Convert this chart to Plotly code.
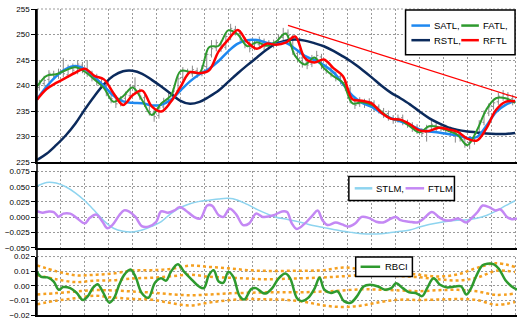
import plotly.graph_objects as go

# ---------------- price bars (bar index on x) ----------------
bar_x = list(range(1, 200, 2))
opens = [239.6, 240.4, 241.2, 242.2, 241.9, 242.7, 242.1, 243.5, 242.8, 244.0,
         243.3, 242.2, 241.8, 240.5, 240.0, 238.4, 237.6, 236.6, 237.5, 238.0,
         239.8, 238.8, 237.6, 236.3, 234.6, 234.1, 235.8, 236.8, 237.9, 239.0,
         241.6, 242.7, 242.3, 242.9, 242.4, 243.7, 246.0, 247.4, 248.1, 247.5,
         249.4, 251.0, 250.2, 248.9, 248.2, 247.5, 248.0, 248.7, 247.8, 248.0,
         248.5, 249.4, 250.3, 249.5, 246.3, 245.4, 244.6, 244.2, 245.1, 245.6,
         243.7, 243.2, 242.1, 241.8, 240.6, 239.3, 237.0, 236.4, 236.8, 236.5,
         236.6, 235.8, 235.0, 234.5, 233.6, 233.4, 233.7, 232.7, 232.2, 231.8,
         231.0, 230.8, 231.9, 232.2, 231.7, 231.7, 231.3, 230.8, 230.4, 229.5,
         228.8, 229.1, 230.7, 232.8, 234.6, 235.9, 236.8, 237.7, 238.1, 237.4]
highs = [241.1, 241.9, 243.0, 242.9, 243.3, 245.4, 244.1, 244.3, 244.9, 244.6,
         245.0, 242.9, 242.3, 241.2, 240.7, 239.0, 238.1, 237.9, 238.8, 240.3,
         241.6, 239.4, 238.2, 236.9, 235.2, 236.3, 237.6, 238.5, 239.5, 241.9,
         243.6, 243.3, 243.9, 243.5, 244.0, 246.8, 248.9, 249.0, 248.8, 250.3,
         252.1, 251.7, 250.8, 249.5, 248.8, 248.9, 249.6, 249.2, 248.9, 249.0,
         249.9, 251.3, 251.0, 250.0, 246.9, 246.0, 245.2, 246.0, 246.8, 246.2,
         244.3, 243.8, 242.7, 242.3, 241.2, 239.8, 237.6, 237.7, 237.4, 237.5,
         237.1, 236.3, 235.6, 235.1, 234.2, 234.3, 234.3, 233.3, 232.8, 232.4,
         231.6, 232.3, 233.1, 232.8, 232.5, 232.3, 231.9, 231.4, 231.0, 230.1,
         229.6, 231.0, 233.2, 235.1, 236.5, 237.3, 238.6, 239.1, 238.7, 238.2]
lows = [239.0, 239.8, 240.6, 241.1, 241.3, 241.6, 241.5, 242.3, 242.2, 242.4,
        241.7, 240.8, 240.0, 239.4, 237.9, 236.5, 235.6, 235.9, 236.9, 237.5,
        238.4, 237.2, 235.8, 234.1, 232.9, 233.5, 235.2, 236.2, 237.3, 238.5,
        241.0, 241.8, 241.7, 241.5, 241.8, 243.2, 245.5, 246.7, 246.6, 247.0,
        248.9, 249.8, 248.4, 247.3, 246.5, 246.9, 247.4, 246.9, 247.1, 247.3,
        247.9, 248.8, 249.0, 246.0, 244.5, 243.5, 243.2, 243.6, 244.4, 243.2,
        242.3, 241.6, 240.8, 240.2, 238.9, 236.5, 235.4, 235.8, 235.6, 235.8,
        235.0, 234.5, 233.6, 233.1, 232.5, 232.7, 232.2, 231.7, 230.9, 230.5,
        229.9, 229.0, 231.2, 230.8, 231.0, 230.5, 230.2, 228.8, 229.0, 227.8,
        227.5, 228.4, 230.1, 232.2, 234.0, 235.3, 236.2, 237.0, 236.5, 236.1]
closes = [240.3, 241.0, 242.4, 241.8, 242.6, 242.3, 243.4, 243.0, 244.2, 243.1,
          242.4, 241.6, 240.7, 240.2, 238.6, 237.4, 236.4, 237.3, 238.2, 239.6,
          239.0, 237.9, 236.5, 234.8, 233.9, 235.6, 236.9, 237.8, 238.9, 241.3,
          242.9, 242.4, 243.1, 242.2, 243.4, 246.1, 247.2, 248.4, 247.3, 249.6,
          251.2, 250.4, 249.1, 248.0, 247.3, 248.2, 248.9, 247.6, 248.1, 248.3,
          249.2, 250.1, 249.8, 246.6, 245.2, 244.4, 244.0, 245.3, 245.9, 243.9,
          243.0, 242.3, 241.5, 240.9, 239.6, 237.2, 236.1, 237.0, 236.3, 236.8,
          235.7, 235.2, 234.3, 233.8, 233.2, 233.6, 232.9, 232.4, 231.6, 231.2,
          230.6, 231.7, 232.4, 231.5, 231.9, 231.2, 230.9, 230.6, 229.7, 228.6,
          228.9, 230.4, 232.6, 234.5, 235.8, 236.6, 237.9, 238.3, 237.2, 236.8]

# ---------------- digital filter lines ----------------
line_x = list(range(0, 201, 4))
satl = [237.3, 239.8, 241.8, 243.2, 243.8, 243.2, 241.7, 239.9, 238.0, 236.9,
        236.6, 236.5, 236.1, 236.2, 237.2, 239.0, 240.8, 242.2, 243.3, 244.8,
        246.7, 248.2, 248.9, 248.9, 248.4, 248.1, 248.4, 247.2, 245.8, 245.0,
        244.0, 242.6, 240.3, 238.0, 236.6, 235.8, 234.6, 233.6, 233.0, 232.3,
        231.4, 231.0, 230.8, 230.5, 230.2, 229.7, 229.9, 232.1, 234.8, 236.2,
        237.0]
fatl = [239.8, 241.9, 242.2, 243.0, 243.6, 242.7, 241.2, 239.5, 236.8, 237.9,
        239.6, 237.1, 234.2, 236.5, 238.0, 242.8, 242.7, 242.5, 247.5, 247.8,
        250.8, 250.0, 247.7, 248.5, 247.8, 248.6, 250.2, 245.8, 244.1, 245.5,
        243.4, 241.8, 240.5, 236.5, 236.7, 236.2, 234.9, 233.5, 233.2, 232.0,
        230.8, 232.0, 231.8, 231.1, 230.3, 228.3, 231.2, 235.3, 237.5, 237.5,
        236.6]
rstl = [225.4, 226.6, 228.3, 230.2, 232.5, 235.3, 237.9, 240.2, 241.9, 242.8,
        242.9, 242.3, 241.1, 239.8, 238.4, 237.0, 236.4, 236.8, 237.8, 239.0,
        240.7, 242.4, 244.0, 245.5, 247.0, 248.2, 248.8, 249.0, 248.8, 248.3,
        247.7, 246.8, 245.7, 244.5, 243.1, 241.6, 240.0, 238.6, 237.5, 236.3,
        234.9, 233.6, 232.6, 231.8, 231.3, 231.0, 230.8, 230.6, 230.5, 230.5,
        230.7]
rftl = [237.2, 239.3, 240.5, 241.5, 242.5, 243.3, 241.9, 241.2, 238.5, 236.2,
        238.1, 239.0, 235.9, 234.9, 236.8, 239.7, 242.6, 242.4, 243.0, 246.7,
        249.0, 250.9, 248.5, 247.2, 248.2, 248.0, 248.4, 249.6, 245.4, 244.5,
        245.1, 243.4, 241.8, 237.3, 237.0, 236.5, 234.7, 233.5, 233.3, 232.4,
        231.2, 231.1, 231.7, 231.4, 230.9, 229.6, 229.2, 231.6, 235.2, 236.8,
        236.9]
trend_x = [105.0, 200.8]
trend_y = [251.8, 237.6]

# ---------------- momentum ----------------
stlm = [0.051, 0.057, 0.056, 0.050, 0.040, 0.027, 0.011, -0.006, -0.018, -0.023,
        -0.024, -0.021, -0.015, -0.007, 0.006, 0.016, 0.022, 0.026, 0.028, 0.030,
        0.031, 0.028, 0.021, 0.013, 0.006, 0.000, -0.003, -0.006, -0.010, -0.014,
        -0.017, -0.020, -0.023, -0.025, -0.027, -0.0275, -0.027, -0.025, -0.023, -0.021,
        -0.016, -0.012, -0.009, -0.0065, -0.005, -0.004, -0.0015, 0.003, 0.010, 0.019,
        0.027]
ftlm_x = [0, 2.3, 5.0, 7.0, 9.0, 11.0, 13.9, 16.6, 20.0, 22.1,
          24.8, 27.4, 29.4, 31.5, 34.4, 36.4, 38.4, 41.2, 43.8, 46.6,
          49.9, 51.9, 54.8, 57.5, 59.6, 62.2, 65.7, 68.3, 71.2, 73.2,
          76.0, 78.0, 80.6, 83.4, 86.2, 88.8, 91.6, 94.4, 99.0,
          102.5, 104.6, 106.6, 108.7, 112.1, 115.3, 117.4, 119.4, 121.5, 125.0,
          127.6, 130.5, 133.2, 135.8, 138.7, 141.9, 144.8, 148.1, 150.1, 152.1,
          155.7, 159.1, 161.8, 165.2, 168.0, 170.6, 173.4, 176.2, 179.6, 182.3,
          184.3, 186.4, 189.1, 191.8, 193.9, 196.6, 198.7, 200.8]
ftlm = [0.010, 0.0075, 0.0096, 0.0086, 0.001, 0.0059, 0.0059, -0.001, -0.010, -0.001,
        0.0043, -0.0073, -0.018, -0.0128, 0.0032, 0.0112, 0.0096, 0.0006, -0.0144, -0.0153,
        -0.0073, 0.0096, 0.0075, 0.0112, 0.0166, 0.0112, 0.0006, -0.0021, 0.0192, 0.0192,
        0.0032, 0.0006, 0.0139, 0.0043, -0.0128, -0.010, 0.0059, 0.0006, 0.0032,
        0.0096, 0.0086, -0.010, -0.0192, -0.010, 0.0032, 0.0112, -0.0048, -0.0128, -0.0085,
        -0.0117, -0.0153, -0.010, 0.0006, -0.001, -0.0073, -0.0085, -0.0021, 0.0006, -0.0048,
        -0.0073, -0.0085, -0.0021, 0.0086, 0.0006, -0.0048, -0.0048, -0.0021, -0.0085, 0.0006,
        0.0086, 0.0192, 0.0166, 0.0112, 0.0128, 0.0006, -0.0032, -0.0021]

# ---------------- RBCI with its bands ----------------
rbci_x = [0, 1.6, 4.4, 7.0, 9.1, 11.0, 13.9, 16.6, 19.2, 21.3,
          23.3, 25.4, 27.4, 30.3, 32.3, 34.4, 36.4, 39.1, 41.2, 43.8,
          46.6, 49.4, 51.9, 54.0, 56.0, 58.9, 61.6, 64.2, 67.8, 69.8,
          71.9, 73.9, 76.0, 78.0, 80.0, 82.1, 84.8, 86.8, 89.6, 91.6,
          94.4, 95.7, 98.4, 101.1, 103.9, 105.9, 108.7, 110.7, 113.4, 116.2,
          118.2, 120.2, 123.0, 125.7, 128.4, 131.2, 133.9, 136.6, 139.3, 142.7,
          145.5, 148.2, 150.2, 153.0, 155.7, 158.4, 161.1, 163.2, 165.9, 168.6,
          171.4, 174.8, 177.5, 179.6, 181.6, 183.6, 186.4, 188.4, 191.1, 193.2,
          195.9, 198.6, 200.8]
rbci = [0.0095, 0.0062, 0.0057, 0.0029, -0.0027, -0.0009, -0.0016, -0.0049, -0.0098, -0.0071,
        -0.0016, 0.0011, -0.0038, -0.0116, -0.0082, 0.0007, 0.0073, 0.0111, 0.0062, -0.0049,
        -0.0082, 0.0022, 0.0051, 0.0035, 0.0095, 0.0147, 0.0095, 0.0051, -0.0005, -0.0016,
        0.0073, 0.0107, 0.0029, 0.0022, 0.0095, 0.0062, -0.0071, -0.0093, -0.0023, -0.0016,
        -0.0049, -0.0053, -0.0016, 0.0051, 0.0084, 0.0051, -0.0083, -0.0105, -0.0083, -0.0016,
        0.0057, -0.0027, -0.0049, -0.0038, -0.0105, -0.0116, -0.0071, -0.0005, 0.0007, -0.0005,
        -0.0027, -0.0016, 0.0017, -0.0016, -0.0045, -0.0049, -0.0071, -0.0016, 0.0051, 0.0007,
        -0.0011, -0.0005, -0.0005, -0.006, -0.0016, 0.0062, 0.014, 0.0151, 0.0147, 0.0117,
        0.004, -0.0005, -0.0027]
band_x = list(range(0, 201, 8))
band_upper_outer = [0.014, 0.010, 0.0072, 0.0075, 0.0084, 0.0105, 0.0107, 0.0115, 0.0138, 0.0129,
                    0.012, 0.0107, 0.0102, 0.0102, 0.0103, 0.0107, 0.0125, 0.0112, 0.0102, 0.0092,
                    0.0075, 0.0064, 0.0078, 0.0122, 0.0154, 0.0129]
band_upper_inner = [0.0073, 0.0045, 0.0025, 0.0035, 0.0038, 0.005, 0.0055, 0.0065, 0.0076, 0.0062,
                    0.0055, 0.005, 0.0044, 0.0048, 0.0052, 0.0057, 0.0065, 0.0073, 0.007, 0.0066,
                    0.0058, 0.0045, 0.0036, 0.0055, 0.0102, 0.0095]
band_lower_inner = [-0.006, -0.005, -0.0039, -0.003, -0.0032, -0.0039, -0.0047, -0.0058, -0.0065, -0.006,
                    -0.0052, -0.0048, -0.0045, -0.0045, -0.0044, -0.0039, -0.0032, -0.0024, -0.0027, -0.0032,
                    -0.0037, -0.003, -0.0028, -0.0038, -0.0062, -0.0053]
band_lower_outer = [-0.0127, -0.0102, -0.0085, -0.0068, -0.008, -0.009, -0.0095, -0.0118, -0.0135, -0.0115,
                    -0.0099, -0.0091, -0.0093, -0.0096, -0.011, -0.0135, -0.0145, -0.0135, -0.011, -0.0095,
                    -0.0097, -0.0094, -0.0091, -0.0097, -0.013, -0.0111]

# ---------------- styling ----------------
FONT = "Liberation Sans, Arial, sans-serif"
C_SATL, C_FATL, C_RSTL, C_RFTL = "#1e88f0", "#2e9a2e", "#0b2a5c", "#ff0000"
C_STLM, C_FTLM, C_RBCI, C_BAND = "#8ed4ef", "#c488f4", "#2e9a2e", "#f5a020"
C_GRID = "#9a9a9a"
GRID_DASH = "2px,2px"
X_RANGE = [0, 200.8]
W, H = 523, 325
ML, MR, MT, MB = 26, 6, 5, 6


def xp(px):
    return (px - ML) / (W - ML - MR)


def yp(py):
    return (H - MB - py) / (H - MT - MB)


fig = go.Figure()

fig.add_trace(go.Ohlc(x=bar_x, open=opens, high=highs, low=lows, close=closes,
                      increasing_line_color="#8a8a8a", decreasing_line_color="#8a8a8a",
                      line_width=1, tickwidth=0.35, showlegend=False, hoverinfo="skip",
                      xaxis="x", yaxis="y"))
spl = dict(shape="spline", smoothing=1.0)
fig.add_trace(go.Scatter(x=line_x, y=rstl, mode="lines", line=dict(color=C_RSTL, width=2.5, **spl),
                         xaxis="x", yaxis="y", showlegend=False))
fig.add_trace(go.Scatter(x=line_x, y=satl, mode="lines", line=dict(color=C_SATL, width=2.5, **spl),
                         xaxis="x", yaxis="y", showlegend=False))
fig.add_trace(go.Scatter(x=line_x, y=fatl, mode="lines", line=dict(color=C_FATL, width=2, **spl),
                         xaxis="x", yaxis="y", showlegend=False))
fig.add_trace(go.Scatter(x=line_x, y=rftl, mode="lines", line=dict(color=C_RFTL, width=2.5, **spl),
                         xaxis="x", yaxis="y", showlegend=False))
fig.add_trace(go.Scatter(x=trend_x, y=trend_y, mode="lines", line=dict(color=C_RFTL, width=1.2),
                         xaxis="x", yaxis="y", showlegend=False))

fig.add_trace(go.Scatter(x=line_x, y=stlm, mode="lines", line=dict(color=C_STLM, width=1.5, **spl),
                         xaxis="x2", yaxis="y2", showlegend=False))
fig.add_trace(go.Scatter(x=ftlm_x, y=ftlm, mode="lines", line=dict(color=C_FTLM, width=2.5, **spl),
                         xaxis="x2", yaxis="y2", showlegend=False))

for band in (band_upper_outer, band_upper_inner, band_lower_inner, band_lower_outer):
    fig.add_trace(go.Scatter(x=band_x, y=band, mode="lines",
                             line=dict(color=C_BAND, width=2.5, dash="dot", **spl),
                             xaxis="x3", yaxis="y3", showlegend=False))
fig.add_trace(go.Scatter(x=rbci_x, y=rbci, mode="lines", line=dict(color=C_RBCI, width=2.5, **spl),
                         xaxis="x3", yaxis="y3", showlegend=False))

grid = dict(showgrid=True, gridcolor=C_GRID, gridwidth=1, griddash=GRID_DASH)
xcommon = dict(range=X_RANGE, tick0=0, dtick=10, showticklabels=False, ticks="",
               showline=True, linecolor="black", linewidth=2, zeroline=False,
               rangeslider=dict(visible=False), **grid)
ycommon = dict(showline=True, linecolor="black", linewidth=1.5, ticks="outside", ticklen=4,
               tickcolor="black", tickwidth=1, zeroline=False,
               tickfont=dict(family=FONT, size=8, color="black"), **grid)

fig.update_layout(
    width=W, height=H, margin=dict(l=ML, r=MR, t=MT, b=MB),
    paper_bgcolor="white", plot_bgcolor="white", showlegend=False,
    xaxis=dict(domain=[0, 1], anchor="y", **xcommon),
    xaxis2=dict(domain=[0, 1], anchor="y2", **xcommon),
    xaxis3=dict(domain=[0, 1], anchor="y3", **xcommon),
    yaxis=dict(domain=[0.5, 1.0], anchor="x", range=[225, 255], dtick=5, tickformat="d", **ycommon),
    yaxis2=dict(domain=[0.2197, 0.469], anchor="x2", range=[-0.05, 0.075], dtick=0.025,
                tickformat=".3f", **ycommon),
    yaxis3=dict(domain=[0, 0.191], anchor="x3", range=[-0.02, 0.02], dtick=0.01,
                tickformat=".2f", **ycommon),
)

shapes = []
annotations = []

# dotted top edge of each panel
for top in (1.0, 0.469, 0.191):
    shapes.append(dict(type="line", xref="paper", yref="paper", x0=0, x1=1, y0=top, y1=top,
                       line=dict(color=C_GRID, width=1, dash=GRID_DASH), layer="above"))

# legend boxes with their keys
legend_boxes = [(403, 6, 515, 52), (345, 177, 453, 201.5), (352, 259.5, 410, 279.5)]
for x0, y0, x1, y1 in legend_boxes:
    shapes.append(dict(type="rect", xref="paper", yref="paper", x0=xp(x0), x1=xp(x1),
                       y0=yp(y1), y1=yp(y0), fillcolor="white",
                       line=dict(color="black", width=1.5), layer="above"))
legend_items = [
    ("SATL,", C_SATL, 409, 428, 430, 22),
    ("FATL,", C_FATL, 460, 478, 480, 22),
    ("RSTL,", C_RSTL, 409, 428, 430, 37),
    ("RFTL", C_RFTL, 460, 478, 480, 37),
    ("STLM,", C_STLM, 351, 369, 371, 189),
    ("FTLM", C_FTLM, 403, 422, 424, 189),
    ("RBCI", C_RBCI, 357, 377, 380, 269.5),
]
for name, color, lx0, lx1, tx, ty in legend_items:
    shapes.append(dict(type="line", xref="paper", yref="paper", x0=xp(lx0), x1=xp(lx1),
                       y0=yp(ty), y1=yp(ty), line=dict(color=color, width=2.5), layer="above"))
    annotations.append(dict(text=name, xref="paper", yref="paper", x=xp(tx), y=yp(ty),
                            xanchor="left", yanchor="middle", showarrow=False,
                            font=dict(family=FONT, size=9.5, color="black")))

# continuous left axis line through all panels
shapes.append(dict(type="line", xref="paper", yref="paper", x0=0, x1=0, y0=0, y1=1,
                   line=dict(color="black", width=1.5), layer="above"))

fig.update_layout(shapes=shapes, annotations=annotations)
fig.write_html("out.html")
